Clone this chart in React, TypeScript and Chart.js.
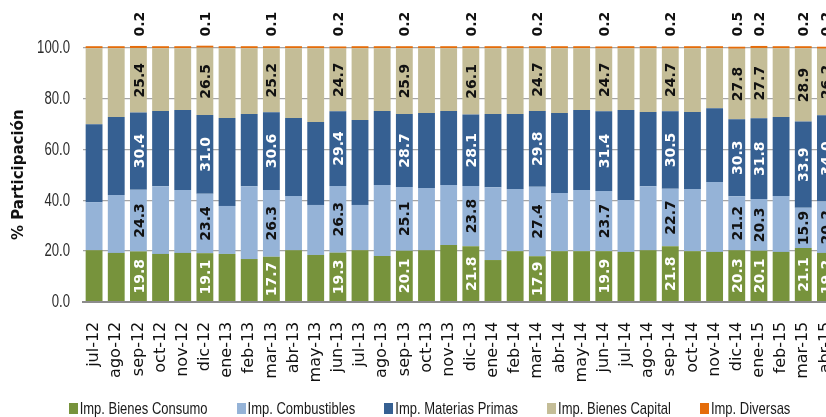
import React, { useEffect, useRef } from 'react';
import { Chart, registerables } from 'chart.js';

Chart.register(...registerables);

const months = [
  'jul-12', 'ago-12', 'sep-12', 'oct-12', 'nov-12', 'dic-12',
  'ene-13', 'feb-13', 'mar-13', 'abr-13', 'may-13', 'jun-13',
  'jul-13', 'ago-13', 'sep-13', 'oct-13', 'nov-13', 'dic-13',
  'ene-14', 'feb-14', 'mar-14', 'abr-14', 'may-14', 'jun-14',
  'jul-14', 'ago-14', 'sep-14', 'oct-14', 'nov-14', 'dic-14',
  'ene-15', 'feb-15', 'mar-15', 'abr-15',
];

const bienesConsumo = [
  20.3, 19.2, 19.8, 18.8, 19.2, 19.1,
  18.8, 16.8, 17.7, 20.3, 18.4, 19.3,
  20.3, 18.0, 20.1, 20.3, 22.3, 21.8,
  16.4, 19.9, 17.9, 19.9, 19.9, 19.9,
  19.6, 20.3, 21.8, 19.9, 19.6, 20.3,
  20.1, 19.6, 21.1, 19.2,
];

const combustibles = [
  18.9, 22.8, 24.3, 26.7, 24.8, 23.4,
  18.9, 28.7, 26.3, 21.3, 19.7, 26.3,
  17.8, 27.9, 25.1, 24.5, 23.6, 23.8,
  28.7, 24.5, 27.4, 22.9, 24.1, 23.7,
  20.4, 25.2, 22.7, 24.5, 27.5, 21.2,
  20.3, 22.0, 15.9, 20.2,
];

const materiasPrimas = [
  30.7, 30.7, 30.4, 29.6, 31.5, 31.0,
  34.6, 28.4, 30.6, 30.7, 32.6, 29.4,
  33.4, 29.2, 28.7, 29.5, 29.2, 28.1,
  28.8, 29.5, 29.8, 31.5, 31.5, 31.4,
  35.5, 29.2, 30.5, 30.3, 29.1, 30.3,
  31.8, 31.1, 33.9, 34.0,
];

const bienesCapital = [
  29.9, 27.1, 25.4, 24.7, 24.3, 26.5,
  27.5, 25.9, 25.2, 27.5, 29.1, 24.7,
  28.3, 24.7, 25.9, 25.5, 24.7, 26.1,
  25.9, 25.9, 24.7, 25.5, 24.3, 24.7,
  24.3, 25.1, 24.7, 25.1, 23.6, 27.8,
  27.7, 27.1, 28.9, 26.2,
];

const diversas = [
  0.2, 0.2, 0.2, 0.2, 0.2, 0.1,
  0.2, 0.2, 0.1, 0.2, 0.2, 0.2,
  0.2, 0.2, 0.2, 0.2, 0.2, 0.2,
  0.2, 0.2, 0.2, 0.2, 0.2, 0.2,
  0.2, 0.2, 0.2, 0.2, 0.2, 0.5,
  0.2, 0.2, 0.2, 0.2,
];

const seriesNames = [
  'Imp. Bienes Consumo',
  'Imp. Combustibles',
  'Imp. Materias Primas',
  'Imp. Bienes Capital',
  'Imp. Diversas',
];

const seriesColors = ['#77933C', '#95B3D7', '#366092', '#C4BD97', '#E46C0A'];
const labelColors = ['#FFFFFF', '#111111', '#FFFFFF', '#111111', '#111111'];

const labeledMonths = [
  'sep-12', 'dic-12', 'mar-13', 'jun-13', 'sep-13', 'dic-13', 'mar-14',
  'jun-14', 'sep-14', 'dic-14', 'ene-15', 'mar-15', 'abr-15',
];

const yMin = 0;
const yMax = 100;
const yStep = 20;

const SANS = "'Liberation Sans', Arial, sans-serif";

// Value labels inside the stacked segments (rotated), and the Diversas labels above the plot.
const segmentLabels = {
  id: 'segmentLabels',
  afterDatasetsDraw(chart: any) {
    const ctx = chart.ctx;
    const area = chart.chartArea;
    const fontSize = 14;
    ctx.save();
    ctx.font = `bold ${fontSize}px 'DejaVu Sans', sans-serif`;
    ctx.textAlign = 'center';
    ctx.textBaseline = 'alphabetic';
    chart.data.datasets.forEach((ds: any, di: number) => {
      const meta = chart.getDatasetMeta(di);
      labeledMonths.forEach((m) => {
        const j = months.indexOf(m);
        const el = meta.data[j];
        if (!el) return;
        const v = ds.data[j];
        const cy = di === 4 ? area.top - 23.5 : (el.y + el.base) / 2;
        ctx.save();
        ctx.translate(el.x, cy);
        ctx.rotate(-Math.PI / 2);
        ctx.fillStyle = labelColors[di];
        ctx.fillText(Number(v).toFixed(1), 0, fontSize * 0.365);
        ctx.restore();
      });
    });
    ctx.restore();
  },
};

// Condensed y tick labels drawn from the y scale's own ticks.
const yTickLabels = {
  id: 'yTickLabels',
  afterDraw(chart: any) {
    const ctx = chart.ctx;
    const scale = chart.scales.y;
    ctx.save();
    ctx.font = `18px ${SANS}`;
    ctx.fillStyle = '#2b2b2b';
    ctx.textAlign = 'right';
    ctx.textBaseline = 'middle';
    scale.ticks.forEach((t: any) => {
      const y = scale.getPixelForValue(t.value);
      ctx.save();
      ctx.translate(scale.right - 13, y + 0.5);
      ctx.scale(0.73, 1);
      ctx.fillText(Number(t.value).toFixed(1), 0, 0);
      ctx.restore();
    });
    ctx.restore();
  },
};

// Condensed legend at the bottom.
const bottomLegend = {
  id: 'bottomLegend',
  afterDraw(chart: any) {
    const ctx = chart.ctx;
    const sx = 0.765;
    const gap = 29;
    const boxW = 9;
    const boxH = 11;
    const textOff = 11;
    const centerX = 429.5;
    const cy = 408.5;
    ctx.save();
    ctx.font = `17px ${SANS}`;
    const items = chart.data.datasets.map((ds: any) => ({
      text: ds.label,
      color: ds.backgroundColor,
      w: textOff + ctx.measureText(ds.label).width * sx,
    }));
    const total = items.reduce((a: number, it: any) => a + it.w, 0) + gap * (items.length - 1);
    let x = centerX - total / 2;
    ctx.textBaseline = 'middle';
    ctx.textAlign = 'left';
    items.forEach((it: any) => {
      ctx.fillStyle = it.color;
      ctx.fillRect(Math.round(x), cy - boxH / 2, boxW, boxH);
      ctx.save();
      ctx.translate(x + textOff, cy + 0.5);
      ctx.scale(sx, 1);
      ctx.fillStyle = '#1a1a1a';
      ctx.fillText(it.text, 0, 0);
      ctx.restore();
      x += it.w + gap;
    });
    ctx.restore();
  },
};

export default function App() {
  const canvasRef = useRef<HTMLCanvasElement>(null);

  useEffect(() => {
    const canvas = canvasRef.current;
    if (!canvas) return;
    const allSeries = [bienesConsumo, combustibles, materiasPrimas, bienesCapital, diversas];
    const chart = new Chart(canvas, {
      type: 'bar',
      data: {
        labels: months,
        datasets: allSeries.map((d, i) => ({
          label: seriesNames[i],
          data: d,
          backgroundColor: seriesColors[i],
          borderWidth: 0,
          barPercentage: 0.76,
          categoryPercentage: 1.0,
          minBarLength: i === 4 ? 2 : 0,
          clip: false,
        })),
      },
      options: {
        responsive: false,
        animation: false,
        devicePixelRatio: 1,
        layout: { padding: { left: 0, right: 8.5, top: 47.7, bottom: 0 } },
        plugins: {
          tooltip: { enabled: false },
          legend: { display: false },
        },
        scales: {
          x: {
            stacked: true,
            grid: { display: false, drawTicks: false },
            border: { display: true, color: '#8c8c8c', width: 2, z: 1 },
            ticks: {
              autoSkip: false,
              minRotation: 90,
              maxRotation: 90,
              padding: 20,
              color: '#111111',
              font: { family: "'DejaVu Sans', sans-serif", size: 16 },
            },
            afterFit: (scale: any) => {
              scale.height = 115.3;
              scale.paddingLeft = 0;
              scale.paddingRight = 0;
            },
          },
          y: {
            stacked: true,
            min: yMin,
            max: yMax,
            grid: {
              color: '#a6a6a6',
              lineWidth: 1.2,
              drawTicks: false,
            },
            border: { display: false },
            ticks: {
              stepSize: yStep,
              display: false,
            },
            title: {
              display: true,
              text: '% Participación',
              color: '#111111',
              font: { family: "'DejaVu Sans', sans-serif", size: 15, weight: 'bold' },
              padding: { top: 10, bottom: 0 },
            },
            afterFit: (scale: any) => {
              scale.width = 83;
              scale.paddingTop = 0;
              scale.paddingBottom = 0;
            },
          },
        },
      },
      plugins: [segmentLabels, yTickLabels, bottomLegend],
    });
    return () => chart.destroy();
  }, []);

  return (
    <div style={{ position: 'fixed', left: 0, top: 0, width: 826, height: 417, overflow: 'hidden', background: '#ffffff' }}>
      <canvas ref={canvasRef} width={845} height={417} style={{ display: 'block' }} />
    </div>
  );
}
